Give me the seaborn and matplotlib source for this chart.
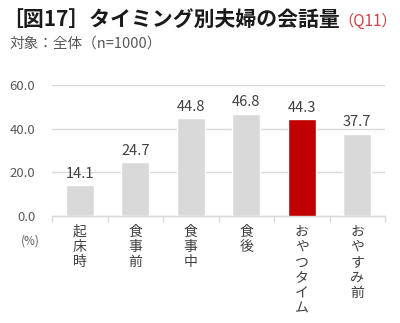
import matplotlib
matplotlib.use("Agg")
import matplotlib.pyplot as plt
import seaborn as sns
import pandas as pd
import numpy as np

categories = ["起床時", "食事前", "食事中", "食後", "おやつタイム", "おやすみ前"]
values = [14.1, 24.7, 44.8, 46.8, 44.3, 37.7]
highlight = "おやつタイム"
yticks = [0, 20, 40, 60]

sns.set_theme(style="white")
plt.rcParams['font.family'] = ['Noto Sans CJK JP', 'DejaVu Sans']

df = pd.DataFrame({"cat": categories, "val": values})
palette = {c: ("#c00000" if c == highlight else "#d9d9d9") for c in categories}

fig = plt.figure(figsize=(4.0, 3.23), dpi=100)
ax = fig.add_axes([0.13, 0.331, 0.8325, 0.406])
sns.barplot(data=df, x="cat", y="val", hue="cat", palette=palette, width=0.5,
            legend=False, ax=ax, zorder=3, saturation=1)

ax.set_ylim(0, 60)
ax.set_xlim(-0.5, len(categories) - 0.5)
ax.set_yticks(yticks)
ax.set_yticklabels([f"{v:.1f}" for v in yticks], color="#595959", fontsize=9.5)
ax.yaxis.grid(True, color="#d9d9d9", linewidth=1, zorder=0)
ax.tick_params(axis="y", length=0, pad=12)
for s in ["top", "right", "left"]:
    ax.spines[s].set_visible(False)
ax.spines["bottom"].set_color("#d9d9d9")
ax.spines["bottom"].set_linewidth(1)
ax.set_xlabel("")
ax.set_ylabel("")

ax.set_xticks(np.arange(-0.5, len(categories), 1.0))
ax.set_xticklabels([])
ax.tick_params(axis="x", length=4, color="#d9d9d9", width=1, direction="out", bottom=True)

for i, (c, v) in enumerate(zip(categories, values)):
    ax.text(i, v + 2.0, f"{v:.1f}", ha="center", va="bottom", fontsize=10.5, color="#404040")
    ax.text(i, -4.0, "\n".join(c), ha="center", va="top", fontsize=10, color="#404040",
            linespacing=1.12)

fig.text(0.075, 0.255, "(%)", ha="center", va="center", fontsize=8.5, color="#595959")

fig.text(0.005, 0.94, "［図17］タイミング別夫婦の会話量", ha="left", va="center",
         fontsize=15, fontweight="bold", color="#1a1a1a")
fig.text(0.845, 0.935, "（Q11）", ha="left", va="center", fontsize=11, color="#d04040")
fig.text(0.025, 0.865, "対象：全体（n=1000）", ha="left", va="center", fontsize=10.5, color="#595959")

fig.savefig("out.png", dpi=100)
